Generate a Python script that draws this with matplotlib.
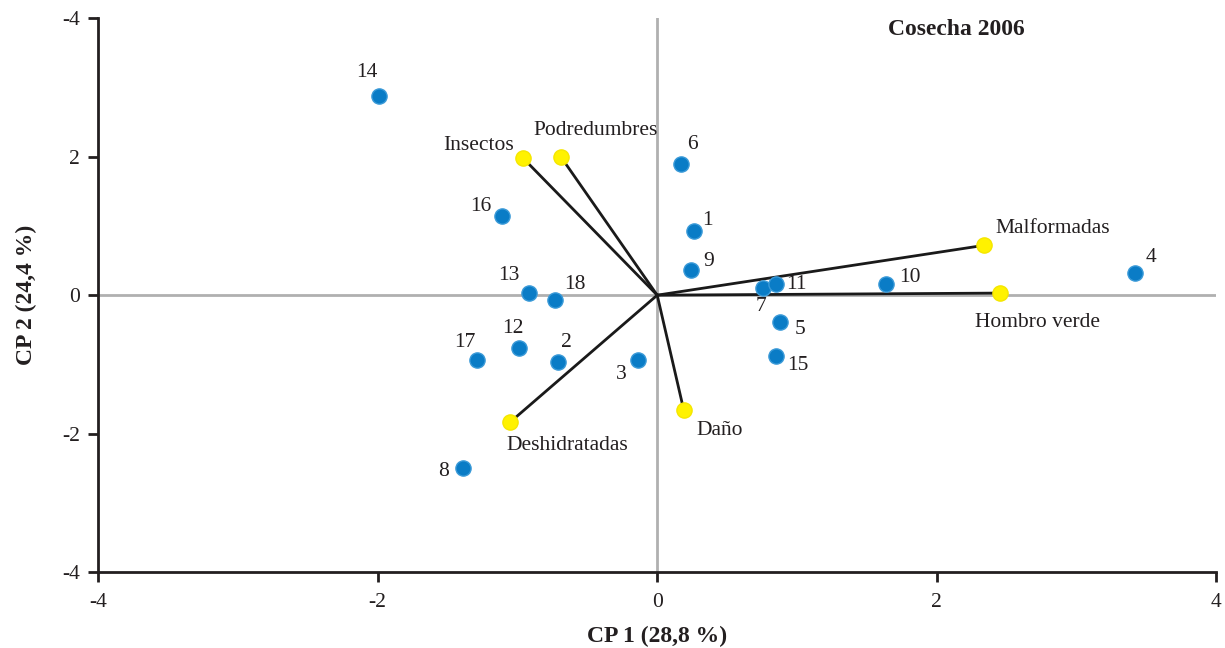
import matplotlib
matplotlib.use("Agg")
import matplotlib.pyplot as plt

plt.rcParams['font.family'] = ['Liberation Serif', 'DejaVu Serif']

# Observations (genotypes)
obs_labels = ['1', '2', '3', '4', '5', '6', '7', '8', '9', '10',
              '11', '12', '13', '14', '15', '16', '17', '18']
obs_x = [0.26, -0.71, -0.14, 3.42, 0.88, 0.17, 0.76, -1.39, 0.24, 1.64,
         0.85, -0.99, -0.92, -1.99, 0.85, -1.11, -1.29, -0.73]
obs_y = [0.92, -0.97, -0.94, 0.32, -0.39, 1.90, 0.10, -2.50, 0.36, 0.16,
         0.16, -0.76, 0.03, 2.87, -0.88, 1.15, -0.94, -0.07]

# Variables (loadings)
var_labels = ['Insectos', 'Podredumbres', 'Malformadas', 'Hombro verde', 'Deshidratadas', 'Daño']
var_x = [-0.96, -0.69, 2.34, 2.45, -1.05, 0.19]
var_y = [1.98, 2.00, 0.72, 0.03, -1.83, -1.66]

x_ticks = [-4, -2, 0, 2, 4]
x_tick_labels = ['-4', '-2', '0', '2', '4']
y_ticks = [-4, -2, 0, 2, 4]
y_tick_labels = ['-4', '-2', '0', '2', '-4']

fig = plt.figure(figsize=(12.25, 6.48), dpi=100)
ax = fig.add_axes([0.080, 0.117, 0.913, 0.855])
ax.set_xlim(-4, 4)
ax.set_ylim(-4, 4)

ax.axhline(0, color='#b0b0b0', lw=2, zorder=1)
ax.axvline(0, color='#b0b0b0', lw=2, zorder=1)

for vx, vy in zip(var_x, var_y):
    ax.plot([0, vx], [0, vy], color='#1a1a1a', lw=2, zorder=2)

ax.scatter(obs_x, obs_y, s=120, color='#0a7cc6', edgecolors='#3a9ad8', linewidths=1, zorder=3)
ax.scatter(var_x, var_y, s=120, color='#fff200', edgecolors='#f5e600', linewidths=1, zorder=3)

# label offsets in points
obs_off = {
    '1': (10, 8), '2': (6, 14), '3': (-12, -10), '4': (11.5, 11.5), '5': (14, -5),
    '6': (8, 14), '7': (-2, -13), '8': (-14, -2), '9': (13, 6), '10': (17, 5),
    '11': (15, 0), '12': (-4, 14), '13': (-14, 13), '14': (-9, 17), '15': (16, -6.5),
    '16': (-15, 6.5), '17': (-9, 13), '18': (14, 11.5),
}
for lab, x, y in zip(obs_labels, obs_x, obs_y):
    dx, dy = obs_off[lab]
    ax.annotate(lab, (x, y), xytext=(dx, dy), textcoords='offset points',
                ha='center', va='center', fontsize=15.5, color='#231f20')

var_off = {
    'Insectos': (-32, 9), 'Podredumbres': (25, 19), 'Malformadas': (49, 12),
    'Hombro verde': (27, -21), 'Deshidratadas': (41, -17), 'Daño': (26, -15),
}
for lab, x, y in zip(var_labels, var_x, var_y):
    dx, dy = var_off[lab]
    ax.annotate(lab, (x, y), xytext=(dx, dy), textcoords='offset points',
                ha='center', va='center', fontsize=15.5, color='#231f20')

ax.text(2.14, 3.83, 'Cosecha 2006', fontsize=17, fontweight='bold',
        ha='center', va='center', color='#231f20')

ax.set_xticks(x_ticks)
ax.set_xticklabels(x_tick_labels)
ax.set_yticks(y_ticks)
ax.set_yticklabels(y_tick_labels)
ax.tick_params(axis='both', direction='out', length=7, width=2, color='#231f20',
               labelsize=15.5, labelcolor='#231f20')
ax.tick_params(axis='x', pad=8)
ax.tick_params(axis='y', pad=6)
for s in ['top', 'right']:
    ax.spines[s].set_visible(False)
for s in ['left', 'bottom']:
    ax.spines[s].set_linewidth(2)
    ax.spines[s].set_color('#231f20')

ax.set_xlabel('CP 1 (28,8 %)', fontsize=17, fontweight='bold', color='#231f20', labelpad=10)
ax.set_ylabel('CP 2 (24,4 %)', fontsize=17, fontweight='bold', color='#231f20', labelpad=18)

fig.savefig('out.png', dpi=100)
